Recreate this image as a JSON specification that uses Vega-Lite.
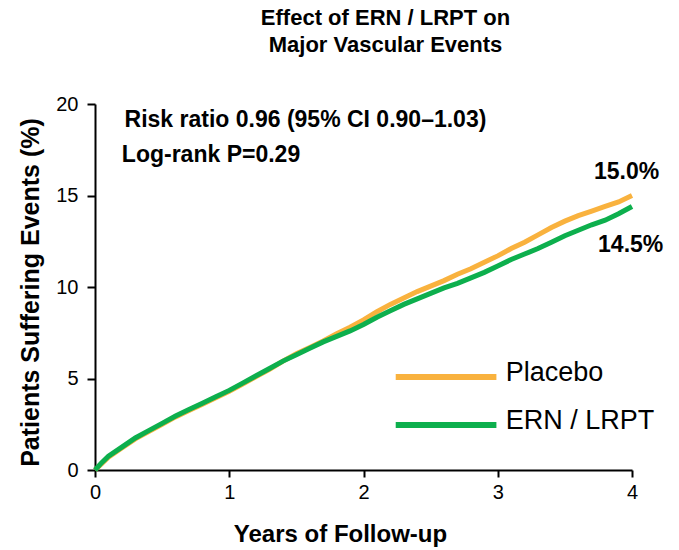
{
  "$schema": "https://vega.github.io/schema/vega-lite/v6.json",
  "width": 537,
  "height": 366,
  "autosize": {"type": "none"},
  "padding": {"left": 95, "top": 104, "right": 47, "bottom": 80},
  "background": "white",
  "config": {"view": {"stroke": null}, "font": "Liberation Sans"},
  "title": {
    "text": ["Effect of ERN / LRPT on", "Major Vascular Events"],
    "font": "Liberation Sans",
    "fontSize": 22,
    "fontWeight": "bold",
    "color": "black",
    "anchor": "middle",
    "dx": 22,
    "offset": 37,
    "lineHeight": 27
  },
  "datasets": {
    "curves": [
      {"t": 0, "y": 0, "g": "Placebo"}, {"t": 0.05, "y": 0.35, "g": "Placebo"}, {"t": 0.1, "y": 0.7, "g": "Placebo"}, {"t": 0.2, "y": 1.2, "g": "Placebo"}, {"t": 0.3, "y": 1.7, "g": "Placebo"}, {"t": 0.4, "y": 2.1, "g": "Placebo"}, {"t": 0.5, "y": 2.5, "g": "Placebo"}, {"t": 0.6, "y": 2.9, "g": "Placebo"}, {"t": 0.7, "y": 3.25, "g": "Placebo"}, {"t": 0.8, "y": 3.6, "g": "Placebo"}, {"t": 0.9, "y": 3.95, "g": "Placebo"}, {"t": 1.0, "y": 4.3, "g": "Placebo"}, {"t": 1.1, "y": 4.7, "g": "Placebo"}, {"t": 1.2, "y": 5.1, "g": "Placebo"}, {"t": 1.3, "y": 5.5, "g": "Placebo"}, {"t": 1.4, "y": 5.95, "g": "Placebo"}, {"t": 1.5, "y": 6.35, "g": "Placebo"}, {"t": 1.6, "y": 6.7, "g": "Placebo"}, {"t": 1.7, "y": 7.05, "g": "Placebo"}, {"t": 1.8, "y": 7.45, "g": "Placebo"}, {"t": 1.9, "y": 7.8, "g": "Placebo"}, {"t": 2.0, "y": 8.2, "g": "Placebo"}, {"t": 2.1, "y": 8.65, "g": "Placebo"}, {"t": 2.2, "y": 9.05, "g": "Placebo"}, {"t": 2.3, "y": 9.4, "g": "Placebo"}, {"t": 2.4, "y": 9.75, "g": "Placebo"}, {"t": 2.5, "y": 10.05, "g": "Placebo"}, {"t": 2.6, "y": 10.35, "g": "Placebo"}, {"t": 2.7, "y": 10.7, "g": "Placebo"}, {"t": 2.8, "y": 11.0, "g": "Placebo"}, {"t": 2.9, "y": 11.35, "g": "Placebo"}, {"t": 3.0, "y": 11.7, "g": "Placebo"}, {"t": 3.1, "y": 12.1, "g": "Placebo"}, {"t": 3.2, "y": 12.45, "g": "Placebo"}, {"t": 3.3, "y": 12.85, "g": "Placebo"}, {"t": 3.4, "y": 13.25, "g": "Placebo"}, {"t": 3.5, "y": 13.6, "g": "Placebo"}, {"t": 3.6, "y": 13.9, "g": "Placebo"}, {"t": 3.7, "y": 14.15, "g": "Placebo"}, {"t": 3.8, "y": 14.4, "g": "Placebo"}, {"t": 3.9, "y": 14.65, "g": "Placebo"}, {"t": 4.0, "y": 15.0, "g": "Placebo"},
      {"t": 0, "y": 0, "g": "ERN / LRPT"}, {"t": 0.05, "y": 0.4, "g": "ERN / LRPT"}, {"t": 0.1, "y": 0.75, "g": "ERN / LRPT"}, {"t": 0.2, "y": 1.25, "g": "ERN / LRPT"}, {"t": 0.3, "y": 1.75, "g": "ERN / LRPT"}, {"t": 0.4, "y": 2.15, "g": "ERN / LRPT"}, {"t": 0.5, "y": 2.55, "g": "ERN / LRPT"}, {"t": 0.6, "y": 2.95, "g": "ERN / LRPT"}, {"t": 0.7, "y": 3.3, "g": "ERN / LRPT"}, {"t": 0.8, "y": 3.65, "g": "ERN / LRPT"}, {"t": 0.9, "y": 4.0, "g": "ERN / LRPT"}, {"t": 1.0, "y": 4.35, "g": "ERN / LRPT"}, {"t": 1.1, "y": 4.75, "g": "ERN / LRPT"}, {"t": 1.2, "y": 5.15, "g": "ERN / LRPT"}, {"t": 1.3, "y": 5.55, "g": "ERN / LRPT"}, {"t": 1.4, "y": 5.95, "g": "ERN / LRPT"}, {"t": 1.5, "y": 6.3, "g": "ERN / LRPT"}, {"t": 1.6, "y": 6.65, "g": "ERN / LRPT"}, {"t": 1.7, "y": 7.0, "g": "ERN / LRPT"}, {"t": 1.8, "y": 7.3, "g": "ERN / LRPT"}, {"t": 1.9, "y": 7.6, "g": "ERN / LRPT"}, {"t": 2.0, "y": 7.95, "g": "ERN / LRPT"}, {"t": 2.1, "y": 8.35, "g": "ERN / LRPT"}, {"t": 2.2, "y": 8.7, "g": "ERN / LRPT"}, {"t": 2.3, "y": 9.05, "g": "ERN / LRPT"}, {"t": 2.4, "y": 9.35, "g": "ERN / LRPT"}, {"t": 2.5, "y": 9.65, "g": "ERN / LRPT"}, {"t": 2.6, "y": 9.95, "g": "ERN / LRPT"}, {"t": 2.7, "y": 10.2, "g": "ERN / LRPT"}, {"t": 2.8, "y": 10.5, "g": "ERN / LRPT"}, {"t": 2.9, "y": 10.8, "g": "ERN / LRPT"}, {"t": 3.0, "y": 11.15, "g": "ERN / LRPT"}, {"t": 3.1, "y": 11.5, "g": "ERN / LRPT"}, {"t": 3.2, "y": 11.8, "g": "ERN / LRPT"}, {"t": 3.3, "y": 12.1, "g": "ERN / LRPT"}, {"t": 3.4, "y": 12.45, "g": "ERN / LRPT"}, {"t": 3.5, "y": 12.8, "g": "ERN / LRPT"}, {"t": 3.6, "y": 13.1, "g": "ERN / LRPT"}, {"t": 3.7, "y": 13.4, "g": "ERN / LRPT"}, {"t": 3.8, "y": 13.65, "g": "ERN / LRPT"}, {"t": 3.9, "y": 14.0, "g": "ERN / LRPT"}, {"t": 4.0, "y": 14.4, "g": "ERN / LRPT"}
    ],
    "legend": [
      {"x1": 2.24, "x2": 2.99, "y": 5.08, "lx": 3.06, "label": "Placebo", "g": "Placebo"},
      {"x1": 2.24, "x2": 2.99, "y": 2.46, "lx": 3.06, "label": "ERN / LRPT", "g": "ERN / LRPT"}
    ],
    "notes": [
      {"x": 0.22, "y": 19.1, "label": "Risk ratio 0.96 (95% CI 0.90\u20131.03)"},
      {"x": 0.2, "y": 17.2, "label": "Log-rank P=0.29"}
    ],
    "ends": [
      {"x": 3.96, "y": 16.3, "label": "15.0%"},
      {"x": 3.99, "y": 12.3, "label": "14.5%"}
    ]
  },
  "layer": [
    {
      "data": {"name": "curves"},
      "mark": {"type": "line", "strokeWidth": 5, "interpolate": "linear", "clip": false},
      "encoding": {
        "x": {"field": "t", "type": "quantitative", "scale": {"domain": [0, 4], "nice": false},
          "axis": {"values": [0, 1, 2, 3, 4], "format": "d", "title": "Years of Follow-up", "grid": false,
            "domainColor": "black", "domainWidth": 2, "tickColor": "black", "tickWidth": 2, "tickSize": 7,
            "labelFontSize": 20, "labelColor": "black", "labelPadding": 5, "labelFlush": false,
            "titleFontSize": 24, "titleFontWeight": "bold", "titleColor": "black", "titlePadding": 20, "titleX": 245, "titleAnchor": "middle", "titleFont": "Liberation Sans", "labelFont": "Liberation Sans"}},
        "y": {"field": "y", "type": "quantitative", "scale": {"domain": [0, 20], "nice": false},
          "axis": {"values": [0, 5, 10, 15, 20], "format": "d", "title": "Patients Suffering Events (%)", "grid": false,
            "domainColor": "black", "domainWidth": 2, "tickColor": "black", "tickWidth": 2, "tickSize": 8,
            "labelFontSize": 20, "labelColor": "black", "labelPadding": 9, "labelFlush": false,
            "titleFontSize": 25, "titleFontWeight": "bold", "titleColor": "black", "titlePadding": 12, "titleAnchor": "middle", "titleY": 188, "titleFont": "Liberation Sans", "labelFont": "Liberation Sans"}},
        "color": {"field": "g", "type": "nominal", "scale": {"domain": ["Placebo", "ERN / LRPT"], "range": ["#F9B23E", "#0DAF4D"]}, "legend": null},
        "order": {"field": "t", "type": "quantitative"},
        "detail": {"field": "g"}
      }
    },
    {
      "data": {"name": "legend"},
      "mark": {"type": "rule", "strokeWidth": 6, "clip": false},
      "encoding": {
        "x": {"field": "x1", "type": "quantitative"},
        "x2": {"field": "x2"},
        "y": {"field": "y", "type": "quantitative"},
        "color": {"field": "g", "type": "nominal", "legend": null}
      }
    },
    {
      "data": {"name": "legend"},
      "mark": {"type": "text", "align": "left", "baseline": "middle", "dy": -4, "fontSize": 27, "font": "Liberation Sans", "color": "black", "clip": false},
      "encoding": {
        "x": {"field": "lx", "type": "quantitative"},
        "y": {"field": "y", "type": "quantitative"},
        "text": {"field": "label"}
      }
    },
    {
      "data": {"name": "notes"},
      "mark": {"type": "text", "align": "left", "baseline": "middle", "fontSize": 23, "fontWeight": "bold", "font": "Liberation Sans", "color": "black", "clip": false},
      "encoding": {
        "x": {"field": "x", "type": "quantitative"},
        "y": {"field": "y", "type": "quantitative"},
        "text": {"field": "label"}
      }
    },
    {
      "data": {"name": "ends"},
      "mark": {"type": "text", "align": "center", "baseline": "middle", "fontSize": 23, "fontWeight": "bold", "font": "Liberation Sans", "color": "black", "clip": false},
      "encoding": {
        "x": {"field": "x", "type": "quantitative"},
        "y": {"field": "y", "type": "quantitative"},
        "text": {"field": "label"}
      }
    }
  ]
}
